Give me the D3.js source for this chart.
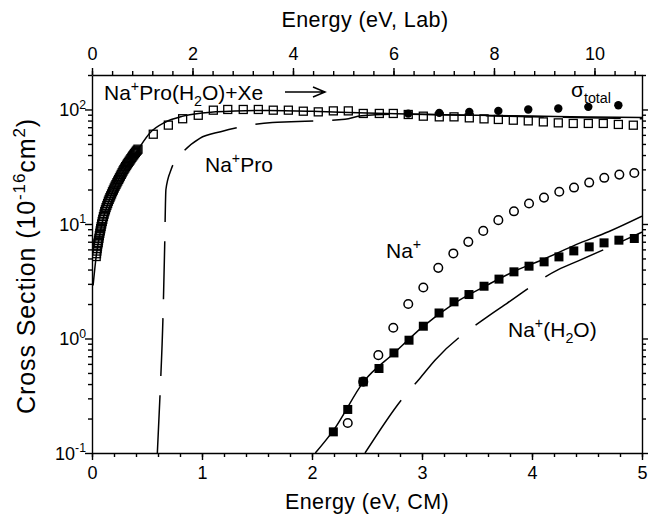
<!DOCTYPE html>
<html>
<head>
<meta charset="utf-8">
<script src="https://cdn.jsdelivr.net/npm/d3@7"></script>
<style>
  html,body{margin:0;padding:0;background:#fff;}
  svg{display:block;font-family:"Liberation Sans",Arial,Helvetica,sans-serif;}
  .axis path,.axis line{stroke:#000;stroke-width:1.4;}
  .axis text{font-size:18px;fill:#000;font-family:"Liberation Sans",Arial,sans-serif;}
</style>
</head>
<body>
<svg id="chart" width="648" height="515"></svg>
<script>
// Na+Pro(H2O) + Xe CID cross sections vs energy (CM bottom, Lab top), log y.
const CM_PER_LAB = 131.29 / (131.29 + 156.13);   // Xe / (Xe + Na+Pro(H2O))

// open squares: Na+Pro product (dense low-energy scan, then coarser steps)
const naProPts = [
  [0.038,5.2],[0.041,5.5],[0.044,5.8],[0.047,6.1],[0.050,6.4],[0.053,6.7],[0.056,6.9],[0.059,7.2],
  [0.063,7.5],[0.067,7.9],[0.071,8.3],[0.075,8.7],[0.079,9.1],[0.083,9.5],[0.088,10.0],[0.093,10.5],
  [0.098,11.0],[0.104,11.6],[0.110,12.2],[0.116,12.8],[0.122,13.3],[0.128,13.9],[0.135,14.5],
  [0.142,15.1],[0.149,15.8],[0.156,16.4],[0.163,17.0],[0.170,17.6],[0.178,18.3],[0.186,19.1],
  [0.194,19.8],[0.202,20.6],[0.210,21.4],[0.218,22.1],[0.226,22.9],[0.234,23.7],[0.242,24.5],
  [0.250,25.3],[0.258,26.2],[0.266,27.1],[0.274,28.0],[0.282,29.0],[0.290,29.9],[0.298,30.8],
  [0.306,31.7],[0.314,32.6],[0.322,33.5],[0.330,34.4],[0.338,35.3],[0.346,36.2],[0.354,37.2],
  [0.362,38.2],[0.370,39.2],[0.378,40.1],[0.386,41.1],[0.394,42.1],[0.402,43.1],[0.410,44.0],
  [0.418,45.0],
  [0.557,60.8],[0.694,73],[0.824,83],[0.966,89],[1.103,98.6],[1.234,100],[1.375,100],
  [1.512,100],[1.648,98.6],[1.785,98.6],[1.921,96.6],[2.057,95.3],[2.194,97.2],[2.330,97.2],
  [2.466,92.3],[2.612,92.3],[2.739,92.3],[2.875,90.4],[3.012,87.4],[3.157,86.2],[3.291,86.2],
  [3.430,84.5],[3.564,82.8],[3.694,81.8],[3.830,80.6],[3.966,79.5],[4.103,77.9],[4.239,76.4],
  [4.375,75.5],[4.512,75.5],[4.648,75.5],[4.785,74.0],[4.921,72.9]
];
// filled circles: sigma total
const totalPts = [[2.875,92],[3.157,93.4],[3.430,95.3],[3.694,97.2],[3.966,100],[4.239,102],[4.512,105.4],[4.785,109]];
// open circles: Na+
const naPts = [
  [2.325,0.183],[2.466,0.42],[2.603,0.715],[2.739,1.24],[2.875,2.0],[3.012,2.79],[3.148,4.14],
  [3.285,5.53],[3.421,6.98],[3.557,8.7],[3.694,10.8],[3.836,12.9],[3.973,15.1],[4.109,17.0],
  [4.248,19.1],[4.382,20.8],[4.520,23.0],[4.657,25.3],[4.794,27.0],[4.930,27.9]
];
// filled squares: Na+(H2O)
const naWaterPts = [
  [2.194,0.153],[2.325,0.24],[2.466,0.418],[2.609,0.547],[2.745,0.748],[2.882,0.966],[3.012,1.28],
  [3.155,1.67],[3.291,2.09],[3.427,2.42],[3.564,2.86],[3.700,3.30],[3.836,3.82],[3.973,4.28],
  [4.110,4.67],[4.245,5.16],[4.380,5.82],[4.520,6.31],[4.655,6.84],[4.790,7.22],[4.930,7.47]
];
// model curves: solid = convoluted fits, dashed = unconvoluted 0 K models
const naProFit = [[0.01,2.9],[0.04,5.4],[0.07,8],[0.10,11],[0.15,15.5],[0.20,20.5],[0.30,30.5],[0.42,45],
  [0.53,63],[0.66,77],[0.82,87],[1.0,93],[1.3,97],[1.6,98],[2.0,96.5],[2.5,93],[3.0,91],[3.5,89],
  [4.0,87.5],[4.5,86],[5.0,85]];
const naProModel = [[0.594,0.1],[0.62,0.35],[0.645,1.5],[0.66,6],[0.672,20],[0.72,30],[0.815,41],
  [0.98,56],[1.17,64],[1.64,77],[1.81,78],[2.3,82],[2.45,88],[2.8,91],[3.5,88.5],[4.0,86.5],[5.0,83]];
const naWaterFit = [[2.03,0.1],[2.2,0.16],[2.47,0.42],[2.75,0.75],[3.0,1.25],[3.3,2.05],[3.6,2.95],
  [3.85,3.9],[4.1,4.9],[4.4,6.6],[4.7,8.6],[5.0,11.7]];
const naWaterModel = [[2.482,0.1],[2.815,0.293],[2.98,0.448],[3.118,0.646],[3.603,1.57],[3.77,2.02],
  [4.239,4.0],[4.421,4.76],[5.0,8.5]];

const W = 648, H = 515, M = {l:92, r:6, t:75, b:62};
const svg = d3.select("#chart");
const x = d3.scaleLinear([0,5], [M.l, W-M.r]);
const xLab = d3.scaleLinear([0, 5/CM_PER_LAB], [M.l, W-M.r]);
const y = d3.scaleLog([0.1,200], [H-M.b, M.t]);

const range = (a,b,s) => d3.range(Math.round((b-a)/s)+1).map(i => +(a+i*s).toFixed(4));
const yMinor = [];
[0.1,1,10,100].forEach(d => { for (let k=2;k<=9;k++) if (k*d <= 200) yMinor.push(k*d); });
const decades = [0.1,1,10,100];

// text with sup/sub parts: [[str,"n"|"sup"|"sub"], ...]
function rich(g, px, py, parts, size, anchor){
  const t = g.append("text").attr("x",px).attr("y",py).attr("font-size",size)
    .attr("text-anchor",anchor||"start").attr("fill","#000");
  let off = 0;
  parts.forEach(([s,k]) => {
    const target = k==="sup" ? -size*0.42 : k==="sub" ? size*0.28 : 0;
    t.append("tspan").attr("dy", target-off).attr("font-size", k==="n" ? size : size*0.68).text(s);
    off = target;
  });
  return t;
}

// ---- axes ----
function addAxis(axis, tr, noDomain){
  const g = svg.append("g").attr("class","axis").attr("transform",tr).call(axis);
  if (noDomain) g.select(".domain").remove();
  return g;
}
addAxis(d3.axisBottom(x).tickValues(range(0,5,0.2)).tickSize(4).tickFormat(""), `translate(0,${H-M.b})`, true);
addAxis(d3.axisBottom(x).tickValues([0,1,2,3,4,5]).tickSize(7).tickSizeOuter(0).tickPadding(6).tickFormat(d3.format("d")), `translate(0,${H-M.b})`);
addAxis(d3.axisTop(xLab).tickValues(range(0,10.8,0.4)).tickSize(4).tickFormat(""), `translate(0,${M.t})`, true);
addAxis(d3.axisTop(xLab).tickValues([0,2,4,6,8,10]).tickSize(7).tickSizeOuter(0).tickPadding(8).tickFormat(d3.format("d")), `translate(0,${M.t})`);
addAxis(d3.axisLeft(y).tickValues(yMinor).tickSize(4).tickFormat(""), `translate(${M.l},0)`, true);
addAxis(d3.axisLeft(y).tickValues(decades).tickSize(7).tickSizeOuter(0).tickFormat(""), `translate(${M.l},0)`);
addAxis(d3.axisRight(y).tickValues(yMinor).tickSize(4).tickFormat(""), `translate(${W-M.r},0)`, true);
addAxis(d3.axisRight(y).tickValues(decades).tickSize(7).tickSizeOuter(0).tickFormat(""), `translate(${W-M.r},0)`);

decades.forEach(d => {
  rich(svg, M.l-6, y(d)+7, [["10","n"],[String(Math.round(Math.log10(d))),"sup"]], 18, "end");
});

// titles
svg.append("text").attr("x",(M.l+W-M.r)/2).attr("y",509).attr("text-anchor","middle")
  .attr("font-size",21.5).attr("letter-spacing",0.4).text("Energy (eV, CM)");
svg.append("text").attr("x",(M.l+W-M.r)/2 - 2).attr("y",27).attr("text-anchor","middle")
  .attr("font-size",21.5).attr("letter-spacing",0.4).text("Energy (eV, Lab)");
const yt = svg.append("g").attr("transform","translate(35,266) rotate(-90)");
rich(yt, 0, 0, [["Cross Section (10","n"],["-16","sup"],["cm","n"],["2","sup"],[")","n"]], 25, "middle")
  .attr("letter-spacing",0.9);

// ---- plot ----
svg.append("clipPath").attr("id","clip").append("rect")
  .attr("x",M.l).attr("y",M.t).attr("width",W-M.l-M.r).attr("height",H-M.t-M.b);
const plot = svg.append("g").attr("clip-path","url(#clip)");
const line = d3.line().x(d=>x(d[0])).y(d=>y(d[1])).curve(d3.curveMonotoneX);

[[naProFit,null],[naWaterFit,null],[naProModel,"58,19"],[naWaterModel,"64,21"]].forEach(([data,dash]) => {
  plot.append("path").datum(data).attr("d",line).attr("fill","none")
    .attr("stroke","#000").attr("stroke-width",1.5).attr("stroke-dasharray",dash);
});

const S = 8;
plot.append("g").selectAll("rect").data(naProPts).join("rect")
  .attr("x",d=>x(d[0])-S/2).attr("y",d=>y(d[1])-S/2).attr("width",S).attr("height",S)
  .attr("fill","none").attr("stroke","#000").attr("stroke-width",1.3);
plot.append("g").selectAll("rect").data(naWaterPts).join("rect")
  .attr("x",d=>x(d[0])-4.5).attr("y",d=>y(d[1])-4.5).attr("width",9).attr("height",9).attr("fill","#000");
plot.append("g").selectAll("circle").data(naPts).join("circle")
  .attr("cx",d=>x(d[0])).attr("cy",d=>y(d[1])).attr("r",4.3)
  .attr("fill","none").attr("stroke","#000").attr("stroke-width",1.5);
plot.append("g").selectAll("circle").data(totalPts).join("circle")
  .attr("cx",d=>x(d[0])).attr("cy",d=>y(d[1])).attr("r",4.2).attr("fill","#000");

// ---- annotations ----
rich(svg, 104, 100, [["Na","n"],["+","sup"],["Pro(H","n"],["2","sub"],["O)+Xe","n"]], 21);
const ax0 = 285, ax1 = 325, ay = 92;
svg.append("path").attr("d",`M${ax0},${ay}H${ax1}M${ax1-12},${ay-5}L${ax1},${ay}L${ax1-12},${ay+5}`)
  .attr("fill","none").attr("stroke","#000").attr("stroke-width",1.5);
rich(svg, 571, 97, [["σ","n"],["total","sub"]], 21);
rich(svg, 205, 172, [["Na","n"],["+","sup"],["Pro","n"]], 21);
rich(svg, 386, 258, [["Na","n"],["+","sup"]], 21);
rich(svg, 508, 337, [["Na","n"],["+","sup"],["(H","n"],["2","sub"],["O)","n"]], 21);
</script>
</body>
</html>
